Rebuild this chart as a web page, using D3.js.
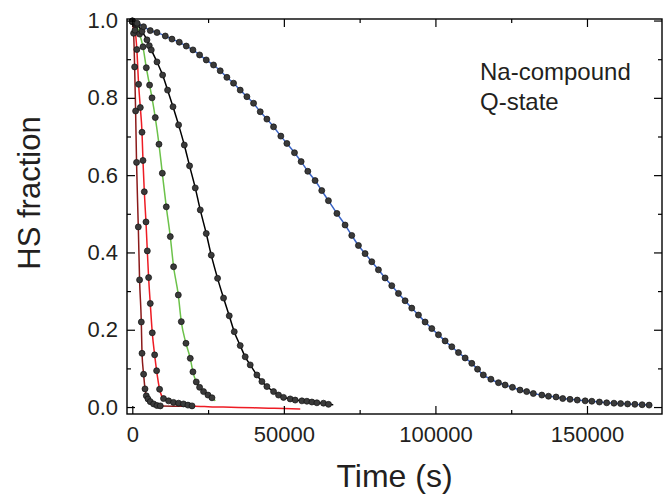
<!DOCTYPE html>
<html>
<head>
<meta charset="utf-8">
<script src="https://cdn.jsdelivr.net/npm/d3@7"></script>
<style>
  body { margin: 0; background: #fff; }
  text { font-family: "Liberation Sans", Arial, sans-serif; fill: #231f20; }
</style>
</head>
<body>
<svg id="chart" width="671" height="496"></svg>
<script>
// Relaxation curves, HS fraction vs time (s). Dots are the measured points,
// the coloured line runs through them.
var darkRedT = [0, 430, 770, 1090, 1400, 1980, 2400, 2970, 3200, 3730, 4190, 4620, 5180, 5930, 7030, 8140, 9230];
var darkRedV = [0.997, 0.967, 0.880, 0.766, 0.633, 0.466, 0.329, 0.220, 0.139, 0.085, 0.047, 0.029, 0.021, 0.014, 0.008, 0.004, 0.003];

var redT = [0, 900, 1500, 2080, 2640, 3200, 3520, 3960, 4510, 4950, 5380, 5930, 6590, 7370, 8020, 9000, 10300, 11970, 13600, 15270, 16900, 18360, 19700];
var redV = [0.998, 0.975, 0.925, 0.835, 0.775, 0.711, 0.638, 0.557, 0.479, 0.404, 0.335, 0.268, 0.192, 0.135, 0.094, 0.046, 0.022, 0.016, 0.012, 0.010, 0.008, 0.005, 0.003];
// the red fit keeps going past the last point
var redTailT = [19700, 25000, 30000, 35000, 40000, 45000, 50000, 55400];
var redTailV = [0.003, 0.001, 0.000, -0.001, -0.002, -0.003, -0.004, -0.005];

var greenT = [0, 1200, 2400, 3520, 4620, 5700, 6500, 7580, 8800, 9900, 11210, 12530, 13620, 15170, 16160, 17700, 19120, 20000, 21100, 22200, 23500, 24960, 26280];
var greenV = [0.999, 0.990, 0.965, 0.932, 0.878, 0.833, 0.800, 0.749, 0.680, 0.605, 0.518, 0.441, 0.363, 0.290, 0.221, 0.165, 0.126, 0.091, 0.065, 0.051, 0.040, 0.031, 0.024];
var greenEndT = 27370, greenEndV = 0.016;

var blackT = [0, 1600, 3200, 4840, 5600, 6260, 8140, 10000, 11640, 13420, 15270, 17150, 18890, 20770, 22420, 24400, 26050, 28130, 30100, 31980, 33630, 35600, 37250, 38900, 41100, 42760, 44400, 46600, 48240, 49890, 52090, 53740, 55950, 57600, 59250, 60900, 63070, 64720];
var blackV = [0.999, 0.990, 0.972, 0.950, 0.935, 0.924, 0.893, 0.859, 0.820, 0.777, 0.730, 0.678, 0.624, 0.567, 0.510, 0.449, 0.393, 0.333, 0.282, 0.236, 0.195, 0.159, 0.130, 0.109, 0.083, 0.066, 0.053, 0.040, 0.031, 0.025, 0.021, 0.018, 0.016, 0.015, 0.013, 0.011, 0.010, 0.007];
var blackEndT = 66300, blackEndV = 0.006;

var blueT = [0, 1600, 3700, 5930, 8140, 10880, 13080, 15500, 17800, 20000, 22200, 24400, 26800, 29000, 31200, 33400, 35600, 37800, 40000, 42200, 44400, 46600, 49000, 51000, 53500, 55700, 57900, 60300, 62500, 64700, 67500, 70200, 72400, 74600, 76800, 79000, 81200, 83400, 85600, 87800, 90000, 92200, 94400, 96600, 98800, 101000, 103200, 105400, 107600, 109800, 112000, 113900, 115800, 118300, 120800, 123000, 125400, 127900, 130100, 132300, 135100, 137300, 139800, 142000, 144400, 146800, 149400, 151600, 154100, 156500, 158900, 161100, 163400, 165800, 168200, 170500];
var blueV = [0.998, 0.993, 0.984, 0.974, 0.969, 0.960, 0.952, 0.944, 0.934, 0.924, 0.911, 0.898, 0.885, 0.870, 0.853, 0.838, 0.820, 0.803, 0.786, 0.764, 0.745, 0.725, 0.701, 0.682, 0.658, 0.635, 0.610, 0.586, 0.560, 0.534, 0.501, 0.471, 0.444, 0.418, 0.397, 0.376, 0.355, 0.334, 0.314, 0.294, 0.275, 0.256, 0.238, 0.220, 0.203, 0.187, 0.171, 0.156, 0.141, 0.127, 0.113, 0.098, 0.083, 0.072, 0.063, 0.057, 0.051, 0.044, 0.040, 0.035, 0.031, 0.028, 0.026, 0.022, 0.020, 0.018, 0.016, 0.015, 0.013, 0.011, 0.010, 0.009, 0.008, 0.007, 0.006, 0.005];

var xMajor = [0, 50000, 100000, 150000];
var xMinor = [25000, 75000, 125000];
var yMajor = [0, 0.2, 0.4, 0.6, 0.8, 1.0];
var yMinor = [0.1, 0.3, 0.5, 0.7, 0.9];
var yLabels = ["0.0", "0.2", "0.4", "0.6", "0.8", "1.0"];

var svg = d3.select("#chart");
// (don't call these top/left: window.top is read-only)
var plotL = 127, plotR = 662, plotT = 19, plotB = 414;

var x = d3.scaleLinear().domain([-1750, 174750]).range([plotL, plotR]);
var y = d3.scaleLinear().domain([-0.018, 1.004]).range([plotB, plotT]);

function pts(ts, vs){
    return ts.map(function(t, i){ return [t, vs[i]]; });
}

var line = d3.line()
    .x(function(d){ return x(d[0]); })
    .y(function(d){ return y(d[1]); })
    .curve(d3.curveMonotoneX);

// clip so nothing spills over the frame
svg.append("clipPath").attr("id", "clip")
  .append("rect").attr("x", plotL).attr("y", plotT - 4)
    .attr("width", plotR - plotL).attr("height", plotB - plotT + 4);

var plot = svg.append("g").attr("clip-path", "url(#clip)");

var series = [
    {pts: pts(darkRedT, darkRedV), line: pts(darkRedT, darkRedV).concat([[20000, 0.002]]), color: "#8b1a1a"},
    {pts: pts(redT, redV), line: pts(redT, redV).concat(pts(redTailT, redTailV).slice(1)), color: "#ee1c24"},
    {pts: pts(greenT, greenV), line: pts(greenT, greenV).concat([[greenEndT, greenEndV]]), color: "#6cc24a"},
    {pts: pts(blackT, blackV), line: pts(blackT, blackV).concat([[blackEndT, blackEndV]]), color: "#000000"},
    {pts: pts(blueT, blueV), line: pts(blueT, blueV).concat([[171500, 0.004]]), color: "#3b64c4"}
];

// lines first, dots on top
series.forEach(function(s){
    plot.append("path")
        .attr("d", line(s.line))
        .attr("fill", "none")
        .attr("stroke", s.color)
        .attr("stroke-width", 1.5);
});
series.forEach(function(s){
    plot.append("g").selectAll("circle")
        .data(s.pts)
        .enter()
        .append("circle")
        .attr("cx", function(d){ return x(d[0]); })
        .attr("cy", function(d){ return y(d[1]); })
        .attr("r", 3)
        .attr("fill", "#3a3a3a")
        .attr("stroke", "#111")
        .attr("stroke-width", 0.7);
});

// axes: ticks point inwards on all four sides
function styleAxis(g){
    g.select(".domain").remove();
    g.selectAll("line").attr("stroke", "#000").attr("stroke-width", 1.2);
    g.selectAll("text").attr("font-size", "22px")
        .attr("font-family", "Liberation Sans, Arial, sans-serif").attr("fill", "#231f20");
}

svg.append("g").attr("transform", "translate(0," + plotB + ")")
    .call(d3.axisBottom(x).tickValues(xMajor).tickSize(-8).tickPadding(12).tickFormat(d3.format("d")))
    .call(styleAxis);
svg.append("g").attr("transform", "translate(0," + plotB + ")")
    .call(d3.axisBottom(x).tickValues(xMinor).tickSize(-4).tickFormat(""))
    .call(styleAxis);
svg.append("g").attr("transform", "translate(0," + plotT + ")")
    .call(d3.axisTop(x).tickValues(xMajor).tickSize(-8).tickFormat(""))
    .call(styleAxis);
svg.append("g").attr("transform", "translate(0," + plotT + ")")
    .call(d3.axisTop(x).tickValues(xMinor).tickSize(-4).tickFormat(""))
    .call(styleAxis);

svg.append("g").attr("transform", "translate(" + plotL + ",0)")
    .call(d3.axisLeft(y).tickValues(yMajor).tickSize(-8).tickPadding(9)
        .tickFormat(function(d, i){ return yLabels[i]; }))
    .call(styleAxis);
svg.append("g").attr("transform", "translate(" + plotL + ",0)")
    .call(d3.axisLeft(y).tickValues(yMinor).tickSize(-4).tickFormat(""))
    .call(styleAxis);
svg.append("g").attr("transform", "translate(" + plotR + ",0)")
    .call(d3.axisRight(y).tickValues(yMajor).tickSize(-8).tickFormat(""))
    .call(styleAxis);
svg.append("g").attr("transform", "translate(" + plotR + ",0)")
    .call(d3.axisRight(y).tickValues(yMinor).tickSize(-4).tickFormat(""))
    .call(styleAxis);

svg.append("rect")
    .attr("x", plotL).attr("y", plotT)
    .attr("width", plotR - plotL).attr("height", plotB - plotT)
    .attr("fill", "none").attr("stroke", "#000").attr("stroke-width", 1.4);

// axis titles
svg.append("text")
    .attr("x", (plotL + plotR) / 2).attr("y", 487)
    .attr("text-anchor", "middle")
    .attr("font-size", "32px")
    .text("Time (s)");

svg.append("text")
    .attr("transform", "translate(40,193) rotate(-90)")
    .attr("text-anchor", "middle")
    .attr("font-size", "31px")
    .text("HS fraction");

// annotation
svg.append("text").attr("x", 480).attr("y", 80).attr("font-size", "24px").text("Na-compound");
svg.append("text").attr("x", 480).attr("y", 110).attr("font-size", "24px").text("Q-state");
</script>
</body>
</html>
